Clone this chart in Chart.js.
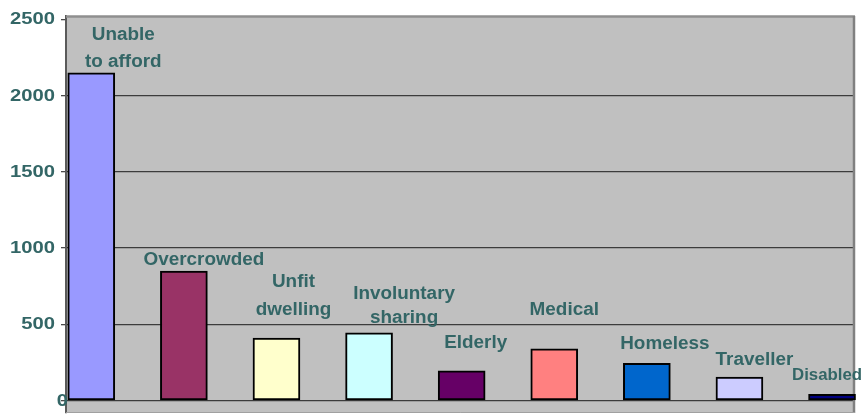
<!DOCTYPE html>
<html>
<head>
<meta charset="utf-8">
<script src="https://cdn.jsdelivr.net/npm/chart.js@4"></script>
<style>
  body { margin: 0; background: #ffffff; }
  canvas { display: block; }
</style>
</head>
<body>
<canvas id="chart" width="862" height="414"></canvas>
<script>
// --- chart data ---
const categories = [
  ["Unable", "to afford"],
  ["Overcrowded"],
  ["Unfit", "dwelling"],
  ["Involuntary", "sharing"],
  ["Elderly"],
  ["Medical"],
  ["Homeless"],
  ["Traveller"],
  ["Disabled"]
];
const values = [2150, 850, 410, 445, 195, 340, 245, 155, 42];
const yTicks = [0, 500, 1000, 1500, 2000, 2500];

// --- styling ---
const barColors = ["#9999FF", "#993366", "#FFFFCC", "#CCFFFF", "#660066",
                   "#FF8080", "#0066CC", "#CCCCFF", "#000080"];
// label placement relative to each bar (shift right, raise of last line baseline)
const labelShiftX = [32, 20, 17, 35, 14, 10, 18, 15, -5];
const labelRaise = [5.6, 5.7, 23.3, 10, 22.7, 33.7, 14.7, 12, 14];
const labelLineGap = [26.7, 26, 28.3, 23.4, 26, 26, 26, 26, 26];
const labelSize = [18, 18, 18, 18, 18, 18, 18, 18, 16];
const textColor = "#336666";

function stretchText(ctx, text, x, y, sx, align) {
  ctx.save();
  ctx.translate(x, y);
  ctx.scale(sx, 1);
  ctx.textAlign = align;
  ctx.fillText(text, 0, 0);
  ctx.restore();
}

const framePlugin = {
  id: "frame",
  beforeDraw(chart) {
    const { ctx, chartArea: a } = chart;
    ctx.save();
    ctx.fillStyle = "#C0C0C0";
    ctx.fillRect(a.left, a.top, a.right - a.left, a.bottom - a.top);
    ctx.restore();
  },
  beforeDatasetsDraw(chart) {
    const { ctx, chartArea: a } = chart;
    ctx.save();
    ctx.strokeStyle = "#8f8f8f";
    ctx.lineWidth = 2.5;
    ctx.beginPath();
    ctx.moveTo(a.left, a.top + 0.5);
    ctx.lineTo(a.right, a.top + 0.5);
    ctx.stroke();
    ctx.strokeStyle = "#808080";
    ctx.beginPath();
    ctx.moveTo(a.right - 1, a.top);
    ctx.lineTo(a.right - 1, a.bottom);
    ctx.stroke();
    ctx.strokeStyle = "#a0a0a0";
    ctx.lineWidth = 1;
    ctx.beginPath();
    ctx.moveTo(a.left, a.bottom - 0.5);
    ctx.lineTo(a.right, a.bottom - 0.5);
    ctx.stroke();
    ctx.restore();
  },
  afterDraw(chart) {
    const ctx = chart.ctx;
    const yScale = chart.scales.y;
    ctx.save();
    ctx.fillStyle = textColor;
    ctx.textBaseline = "alphabetic";

    // y tick labels
    ctx.font = "bold 17px 'Liberation Sans', Arial, sans-serif";
    yScale.ticks.forEach((t) => {
      const y = yScale.getPixelForValue(t.value);
      const right = t.value === 0 ? 68 : 55;
      stretchText(ctx, String(t.value), right, y + 5, 1.19, "right");
    });

    // bar labels
    const bars = chart.getDatasetMeta(0).data;
    bars.forEach((bar, i) => {
      ctx.font = "bold " + labelSize[i] + "px 'Liberation Sans', Arial, sans-serif";
      const lines = categories[i];
      const cx = bar.x + labelShiftX[i];
      const baseY = bar.y - labelRaise[i];
      lines.forEach((line, j) => {
        const y = baseY - (lines.length - 1 - j) * labelLineGap[i];
        stretchText(ctx, line, cx, y, 1.05, "center");
      });
    });
    ctx.restore();
  }
};

const ctx = document.getElementById("chart").getContext("2d");
const chart = new Chart(ctx, {
  type: "bar",
  data: {
    datasets: [{
      data: values.map((v, i) => ({ x: i, y: v })),
      backgroundColor: barColors,
      borderColor: "#000000",
      borderWidth: 2,
      borderSkipped: false,
      barThickness: 47,
      clip: false
    }]
  },
  options: {
    responsive: false,
    animation: false,
    layout: { padding: { top: 16, right: 7, bottom: 1, left: 0 } },
    plugins: {
      legend: { display: false },
      tooltip: { enabled: false }
    },
    scales: {
      x: {
        type: "linear",
        offset: false,
        min: -0.273,
        max: 8.248,
        display: false
      },
      y: {
        min: -81,
        max: 2522,
        afterBuildTicks(scale) {
          scale.ticks = yTicks.map((v) => ({ value: v }));
        },
        afterFit(scale) {
          scale.width = 66;
        },
        ticks: { display: false },
        grid: {
          color: (c) => (c.tick && c.tick.value === 2500 ? "rgba(0,0,0,0)" : "#3c3c3c"),
          lineWidth: 1.3,
          tickColor: "#4a4a4a",
          tickLength: 5,
          drawTicks: true
        },
        border: { display: true, color: "#5a5a5a", width: 2 }
      }
    }
  },
  plugins: [framePlugin]
});
</script>
</body>
</html>
